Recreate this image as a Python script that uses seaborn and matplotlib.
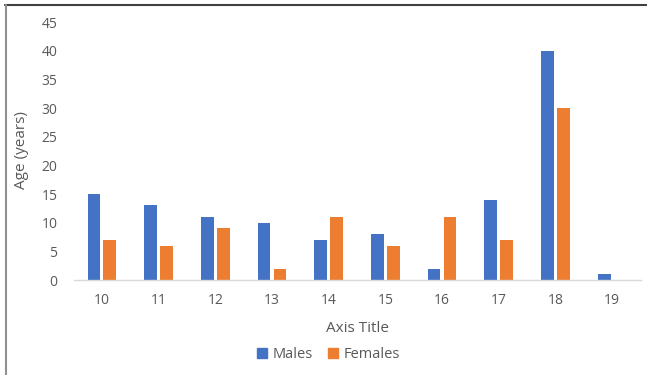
import numpy as np
import pandas as pd
import seaborn as sns
import matplotlib.pyplot as plt
from matplotlib.lines import Line2D

# data
ages = ["10", "11", "12", "13", "14", "15", "16", "17", "18", "19"]
males = [15, 13, 11, 10, 7, 8, 2, 14, 40, 1]
females = [7, 6, 9, 2, 11, 6, 11, 7, 30, 0]
series_names = ["Males", "Females"]
colors = ["#4472C4", "#ED7D31"]

df = pd.DataFrame({
    "cat": ages * 2,
    "value": males + females,
    "series": [series_names[0]] * len(ages) + [series_names[1]] * len(ages),
})

sns.set_theme(style="white")
plt.rcParams["font.family"] = ["Open Sans", "DejaVu Sans"]
text_col = "#595959"

fig = plt.figure(figsize=(6.47, 3.75), dpi=100)
ax = fig.add_axes([73.5 / 647, 1 - 280 / 375, (640.5 - 73.5) / 647, (280 - 22) / 375])

sns.barplot(data=df, x="cat", y="value", hue="series", palette=colors,
            width=0.56, gap=0.2, ax=ax, legend=False, saturation=1, linewidth=0)

ax.set_ylim(0, 45)
ax.set_yticks(np.arange(0, 46, 5))
ax.set_xlim(-0.5, len(ages) - 0.5)
for s in ["top", "right", "left"]:
    ax.spines[s].set_visible(False)
ax.spines["bottom"].set_color("#D9D9D9")
ax.spines["bottom"].set_linewidth(1)
ax.tick_params(axis="both", length=0, labelsize=10, colors=text_col, pad=9)
ax.tick_params(axis="y", pad=11.5)
ax.set_xlabel("")
ax.set_ylabel("")

fig.text(22 / 647, 1 - 150 / 375, "Age (years)", rotation=90, ha="center", va="center",
         fontsize=11, color=text_col)
fig.text(357 / 647, 1 - 328 / 375, "Axis Title", ha="center", va="center",
         fontsize=11, color=text_col)

handles = [Line2D([], [], marker="s", linestyle="", markersize=7, color=c) for c in colors]
fig.legend(handles, series_names, loc="center", bbox_to_anchor=(328 / 647, 1 - 355 / 375),
           ncol=2, frameon=False, fontsize=10.5, labelcolor=text_col,
           handlelength=0.8, handletextpad=0.3, columnspacing=1.0)

# frame lines at top and left of the image
fig.add_artist(Line2D([5 / 647, 1], [1 - 5 / 375] * 2, transform=fig.transFigure,
                      color="#404040", linewidth=1.5))
fig.add_artist(Line2D([5.5 / 647] * 2, [0, 1 - 5 / 375], transform=fig.transFigure,
                      color="#909090", linewidth=1.5))

fig.savefig("out.png", dpi=100)
